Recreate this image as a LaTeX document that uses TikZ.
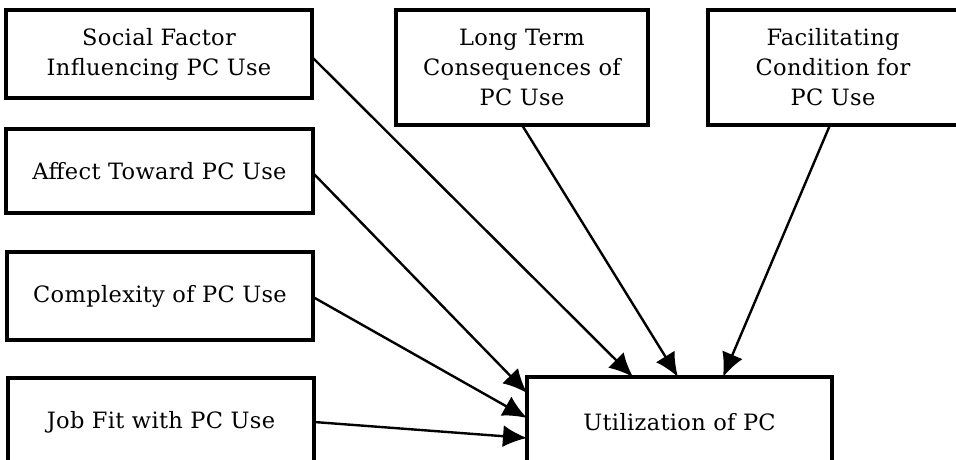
\documentclass[tikz,border=0pt]{standalone}
\usepackage{fontspec}
\setmainfont{DejaVu Serif}[LetterSpace=1.5]
\usetikzlibrary{arrows.meta}
\begin{document}
\begin{tikzpicture}[x=1pt,y=1pt,
  box/.style={draw=black, line width=4.5pt, fill=white, inner sep=0pt, outer sep=0pt,
    align=center, font=\fontsize{22.5}{30}\selectfont},
  conn/.style={line width=2.4pt, -{Latex[length=24pt,width=22pt]}}]
\useasboundingbox (0,0) rectangle (956,460);
\node[box, minimum width=306pt, minimum height=88pt] (soc) at (159,406) {Social Factor\\Influencing PC Use};
\node[box, minimum width=307pt, minimum height=84pt] (aff) at (159.5,289) {Affect Toward PC Use};
\node[box, minimum width=306pt, minimum height=88pt] (cmp) at (160,164) {Complexity of PC Use};
\node[box, minimum width=306pt, minimum height=88pt] (job) at (161,38) {Job Fit with PC Use};
\node[box, minimum width=252pt, minimum height=115pt] (lt) at (522,392.5) {Long Term\\Consequences of\\PC Use};
\node[box, minimum width=250pt, minimum height=115pt] (fac) at (833,392.5) {Facilitating\\Condition for\\PC Use};
\node[box, minimum width=305pt, minimum height=90pt] (ut) at (679.5,38) {Utilization of PC};
\draw[conn] ([yshift=-3pt]soc.east) -- ([xshift=106pt]ut.north west);
\draw[conn] (lt.south) -- ([xshift=151pt]ut.north west);
\draw[conn] ([xshift=-3pt]fac.south) -- ([xshift=196pt]ut.north west);
\draw[conn] ([yshift=-2pt]aff.east) -- ([yshift=-16pt]ut.north west);
\draw[conn] ([yshift=-1pt]cmp.east) -- ([yshift=-41pt]ut.north west);
\draw[conn] (job.east) -- ([yshift=-61pt]ut.north west);
\end{tikzpicture}
\end{document}
